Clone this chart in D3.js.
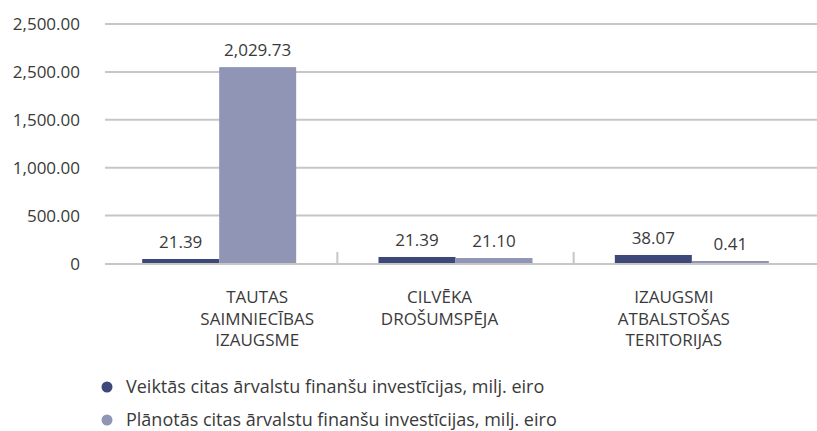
<!DOCTYPE html>
<html lang="lv">
<head>
    <meta charset="utf-8">
    <script src="https://cdn.jsdelivr.net/npm/d3@7"></script>
    <style>
        body { margin: 0; background: #fff; }
        text { font-family: 'Open Sans', 'Noto Sans', sans-serif; fill: #3a3a3a; }
    </style>
</head>
<body>

<script>
    var w = 817;
    var h = 431;

    // categories (lines of the axis label)
    var categories = [
        ['TAUTAS', 'SAIMNIECĪBAS', 'IZAUGSME'],
        ['CILVĒKA', 'DROŠUMSPĒJA'],
        ['IZAUGSMI', 'ATBALSTOŠAS', 'TERITORIJAS']
    ];
    var seriesNames = [
        'Veiktās citas ārvalstu finanšu investīcijas, milj. eiro',
        'Plānotās citas ārvalstu finanšu investīcijas, milj. eiro'
    ];
    // bar heights as drawn in the picture
    var veiktas = [47, 68, 89];
    var planotas = [2050, 57, 26];
    // value labels as printed
    var veiktasLabels = ['21.39', '21.39', '38.07'];
    var planotasLabels = ['2,029.73', '21.10', '0.41'];
    // y tick values and their printed labels
    var yTicks = [0, 500, 1000, 1500, 2000, 2500];
    var yTickLabels = ['0', '500.00', '1,000.00', '1,500.00', '2,500.00', '2,500.00'];

    var colors = ['#3d4878', '#9095b5'];
    // category labels are not centred on their groups in the original
    var labelShift = [38, -16, -18];

    var svg = d3.select('body').append('svg').attr('width', w).attr('height', h);

    var y = d3.scaleLinear().domain([0, 2500]).range([263.5, 24]);
    var x0 = d3.scaleBand().domain(d3.range(categories.length)).range([101, 810]);
    var x1 = d3.scaleBand().domain([0, 1]).range([0, 154]);
    var groupOffset = (x0.bandwidth() - 154) / 2;

    // gridlines
    svg.append('g').selectAll('line')
        .data(yTicks.slice(1))
        .enter().append('line')
        .attr('x1', 105).attr('x2', w)
        .attr('y1', function(d) { return y(d); })
        .attr('y2', function(d) { return y(d); })
        .attr('stroke', '#c6c6c6')
        .attr('stroke-width', 2);

    // y labels
    svg.append('g').selectAll('text')
        .data(yTicks)
        .enter().append('text')
        .attr('x', 80)
        .attr('y', function(d) { return y(d); })
        .attr('dy', '0.36em')
        .attr('text-anchor', 'end')
        .attr('font-size', '17px')
        .text(function(d, i) { return yTickLabels[i]; });

    // bars
    var series = [veiktas, planotas];
    var labels = [veiktasLabels, planotasLabels];
    series.forEach(function(vals, s) {
        var g = svg.append('g');
        g.selectAll('rect')
            .data(vals)
            .enter().append('rect')
            .attr('x', function(d, i) { return x0(i) + groupOffset + x1(s); })
            .attr('y', function(d) { return y(d); })
            .attr('width', x1.bandwidth())
            .attr('height', function(d) { return y(0) - y(d); })
            .attr('fill', colors[s]);
        g.selectAll('text')
            .data(vals)
            .enter().append('text')
            .attr('x', function(d, i) { return x0(i) + groupOffset + x1(s) + x1.bandwidth() / 2; })
            .attr('y', function(d) { return y(d) - 11; })
            .attr('text-anchor', 'middle')
            .attr('font-size', '17px')
            .text(function(d, i) { return labels[s][i]; });
    });

    // baseline + category ticks
    svg.append('line')
        .attr('x1', 105).attr('x2', w)
        .attr('y1', y(0) + 0.5).attr('y2', y(0) + 0.5)
        .attr('stroke', '#c6c6c6').attr('stroke-width', 2);
    svg.append('g').selectAll('line')
        .data(d3.range(1, categories.length))
        .enter().append('line')
        .attr('x1', function(d) { return x0(d); })
        .attr('x2', function(d) { return x0(d); })
        .attr('y1', 252).attr('y2', y(0))
        .attr('stroke', '#c6c6c6').attr('stroke-width', 2);

    // category labels
    svg.append('g').selectAll('text')
        .data(categories)
        .enter().append('text')
        .attr('text-anchor', 'middle')
        .attr('font-size', '17px')
        .attr('y', 303)
        .attr('transform', function(d, i) { return 'translate(' + (x0(i) + x0.bandwidth() / 2 + labelShift[i]) + ',0)'; })
        .each(function(d) {
            d3.select(this).selectAll('tspan')
                .data(d).enter().append('tspan')
                .attr('x', 0)
                .attr('dy', function(t, j) { return j === 0 ? 0 : 21.5; })
                .text(function(t) { return t; });
        });

    // legend
    var legend = svg.append('g').selectAll('g')
        .data(seriesNames)
        .enter().append('g')
        .attr('transform', function(d, i) { return 'translate(107,' + (387 + i * 33) + ')'; });
    legend.append('circle').attr('r', 5.5).attr('fill', function(d, i) { return colors[i]; });
    legend.append('text')
        .attr('x', 19).attr('dy', '0.36em')
        .attr('font-size', '18px')
        .text(function(d) { return d; });
</script>
</body>
</html>
